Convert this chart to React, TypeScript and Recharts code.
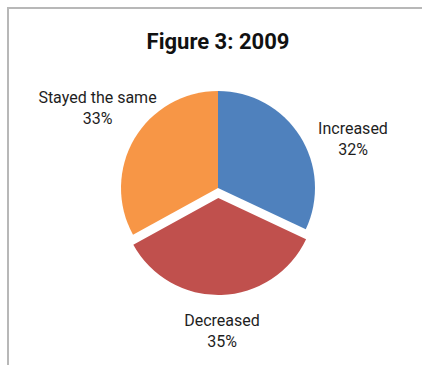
import React from "react";
import { PieChart, Pie, Cell } from "recharts";

const categories = ["Increased", "Decreased", "Stayed the same"];
const values = [32, 35, 33];
const colors = ["#4F81BD", "#C0504D", "#F79646"];
const explodedIndex = 1;
const title = "Figure 3: 2009";

const data = categories.map((name, i) => ({ name, value: values[i] }));

const W = 422;
const H = 365;
const CX = 218;
const CY = 188;
const R = 97;
const EXPLODE = 10;
const START = 90;
const END = -270;

// compute mid angle of exploded slice
const total = values.reduce((a, b) => a + b, 0);
let acc = 0;
for (let i = 0; i < explodedIndex; i++) acc += values[i];
const midAngle = START - ((acc + values[explodedIndex] / 2) / total) * 360;
const ex = EXPLODE * Math.cos((midAngle * Math.PI) / 180);
const ey = -EXPLODE * Math.sin((midAngle * Math.PI) / 180);

const LABEL_OFFSETS: [number, number][] = [
  [135, -54],
  [4, 138],
  [-120.5, -85],
];

const FONT = "Roboto, 'Liberation Sans', sans-serif";

const renderLabel = (props: any) => {
  const { index, name, value } = props;
  const [dx, dy] = LABEL_OFFSETS[index];
  const x = CX + dx;
  const y = CY + dy;
  return (
    <text
      x={x}
      y={y}
      textAnchor="middle"
      fontFamily={FONT}
      fontSize={16}
      fill="#1e1e1e"
    >
      <tspan x={x} dy={0}>{name}</tspan>
      <tspan x={x} dy={21}>{`${Math.round((value / total) * 100)}%`}</tspan>
    </text>
  );
};

export default function App() {
  return (
    <div style={{ position: "absolute", left: 0, top: 0, width: W, height: H, background: "#fff" }}>
      <div
        style={{
          position: "absolute",
          left: 7,
          top: 7,
          width: W - 7,
          height: H - 7,
          borderTop: "2px solid #b8b8b8",
          borderLeft: "2px solid #b8b8b8",
          boxSizing: "border-box",
        }}
      />
      <div
        style={{
          position: "absolute",
          left: 0,
          width: 436,
          top: 29,
          textAlign: "center",
          fontFamily: FONT,
          fontWeight: 700,
          fontSize: 22,
          lineHeight: "26px",
          color: "#111",
        }}
      >
        {title}
      </div>
      <div style={{ position: "absolute", left: 0, top: 0 }}>
        <PieChart width={W} height={H} margin={{ top: 0, right: 0, bottom: 0, left: 0 }}>
          <Pie
            data={data}
            dataKey="value"
            nameKey="name"
            cx={CX}
            cy={CY}
            outerRadius={R}
            startAngle={START}
            endAngle={END}
            stroke="none"
            isAnimationActive={false}
            label={renderLabel}
            labelLine={false}
          >
            {data.map((d, i) => (
              <Cell key={d.name} fill={i === explodedIndex ? "transparent" : colors[i]} />
            ))}
          </Pie>
          <Pie
            data={data}
            dataKey="value"
            nameKey="name"
            cx={CX + ex}
            cy={CY + ey}
            outerRadius={R}
            startAngle={START}
            endAngle={END}
            stroke="none"
            isAnimationActive={false}
          >
            {data.map((d, i) => (
              <Cell key={d.name} fill={i === explodedIndex ? colors[i] : "transparent"} />
            ))}
          </Pie>
        </PieChart>
      </div>
    </div>
  );
}
